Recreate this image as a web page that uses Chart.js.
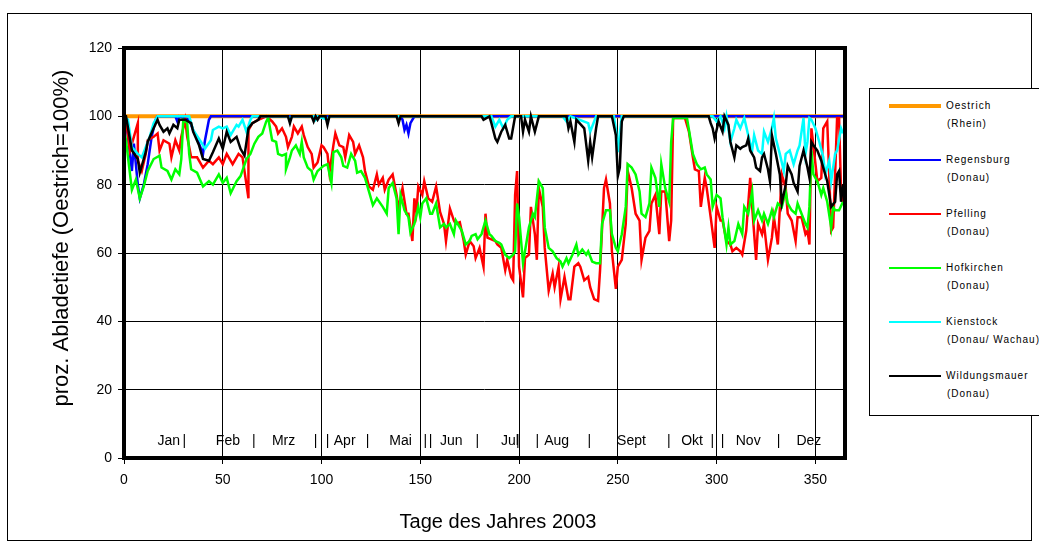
<!DOCTYPE html>
<html>
<head>
<meta charset="utf-8">
<script src="https://cdn.jsdelivr.net/npm/chart.js@4.4.1/dist/chart.umd.min.js"></script>
<style>
    body { margin: 0; background: #fff; font-family: Arial, "Liberation Sans", sans-serif; }
    #wrap { position: relative; width: 1039px; height: 552px; overflow: hidden; background: #fff; }
    #frame { position: absolute; left: 7px; top: 13px; width: 1025px; height: 528px; border: 1px solid #000; box-sizing: border-box; }
    #chart { position: absolute; left: 0; top: 0; }
    #legend { position: absolute; left: 869px; top: 88px; width: 190px; height: 328px; border: 1px solid #000; box-sizing: border-box; background: #fff; }
    .swatch { position: absolute; left: 19px; width: 52px; }
    .name { position: absolute; left: 76px; font-size: 10px; letter-spacing: 1px; white-space: nowrap; line-height: 12px; color: #000; }
</style>
</head>
<body>
<div id="wrap">
    <div id="frame"></div>
    <canvas id="chart" width="1039" height="552"></canvas>
    <div id="legend"></div>
</div>
<script>
// Abladetiefe 2003, Tageswerte in % von Oestrich

const seriesNames = ['Oestrich', 'Regensburg', 'Pfelling', 'Hofkirchen', 'Kienstock', 'Wildungsmauer'];
const seriesRivers = ['(Rhein)', '(Donau)', '(Donau)', '(Donau)', '(Donau/ Wachau)', '(Donau)'];

const oestrichDays = [0, 365];
const oestrichVals = [100, 100];

const regensburgDays = [0,1,4,5,7,8,10,12,14,16,17,26,27,28,33,35,38,40,41,43,44,140,141,142,143,144,145,147,365];
const regensburgVals = [100,99,84,92,80,76,80,86,94,99,100,100,98.5,100,99,96,92,89,93,99,100,100,99,96,97.5,95,98,100,100];

const pfellingDays = [0,1,3,5,7,7,9,11,12,15,17,18,20,23,24,26,28,29,31,32,34,37,40,43,45,48,50,52,55,58,60,63,63,65,68,72,
    75,77,78,80,82,83,85,86,88,90,91,93,95,96,98,100,101,103,104,106,107,109,111,112,114,116,117,119,121,122,124,126,128,129,131,132,134,136,138,139,141,143,144,146,147,
    148,149,151,152,154,156,158,160,162,163,165,167,168,170,172,173,175,177,178,180,182,183,184,186,188,189,191,193,194,196,197,198,199,200,202,203,205,206,208,209,210,212,213,215,217,218,220,
    221,223,225,226,228,230,231,233,235,236,238,240,241,243,244,246,247,249,250,252,254,255,257,259,261,262,264,266,267,269,271,272,274,276,277,278,284,286,288,289,291,292,294,295,
    297,299,300,302,303,305,307,308,310,312,313,315,317,318,320,321,323,324,326,328,329,331,333,335,336,338,340,341,343,345,346,347,348,349,351,353,354,356,357,358,359,360,361,362,363,364];
const pfellingVals = [100,99,90,94,98,87,84,89,93,94,95,90,93,92,88,93,90,94,99,94,88,88,85,87,86,88,86,89,86,89,88,76,96,98,99,100,
    98.5,97,95,96.5,94,91,94,97,95,97,94.5,91,89,85,86.5,91.5,91,89,83.5,91.5,95,91.5,91,88,94.5,92.5,89,91.5,88,84,79.5,78.5,83,80,82,78.5,81.5,83,77,73,79,71.5,71.5,63.5,76,
    72,79.5,77,81,76,75,79.5,72,68.5,63.5,73,69.5,68.5,69,63.5,59.5,63.5,62,58.5,61.5,56,71.5,64.5,64,63.5,62.5,61.5,55,58,53,52,77,84,56,47,58.5,59.5,73.5,65.5,58,79,73.5,61.5,49,54,50,56,
    46.5,53,46.5,46.5,56,57,56,52,53,50,46.5,46,55,79,81.5,74.5,60.5,49.5,56,58,68.5,84,79,71.5,69.5,58,64.5,66.5,74.5,77,65.5,78,78,63.5,69.5,99.5,99.5,95.5,88,84.5,84,73.5,82,79,
    70.5,61.5,73.5,69.5,69.5,63.5,62.5,60.5,61.5,60.5,59.5,66.5,82,73.5,58,68.5,65.5,68.5,58,64.5,70.5,62.5,83,79,71.5,69.5,63.5,70.5,70.5,65.5,66.5,62.5,96.5,91.5,81,82,96.5,98.5,83,66.5,67.5,83,99.5,99.5,78,75];

const hofkirchenDays = [0,1,4,6,8,10,12,15,18,19,22,24,26,28,29,30,32,33,34,37,40,43,45,48,50,52,54,57,59,62,64,66,68,70,72,
    73,75,77,78,80,82,82,84,85,87,89,90,91,93,95,96,98,100,101,103,105,106,108,110,111,113,115,117,118,120,122,123,126,128,131,133,134,136,138,139,140,142,144,145,147,
    149,150,151,153,155,156,158,160,162,163,165,167,168,171,173,175,176,178,179,181,183,185,186,188,190,191,193,195,197,198,199,200,202,203,205,207,208,210,212,213,215,217,219,221,
    222,224,225,227,229,230,232,234,235,237,239,241,242,244,246,247,249,250,252,254,255,257,259,261,262,264,266,267,269,271,272,274,276,277,278,285,287,288,290,292,294,295,
    297,298,300,302,303,305,306,307,309,311,313,314,316,318,319,321,323,324,326,328,329,331,333,335,336,338,340,341,343,345,346,347,348,349,351,353,354,356,358,359,360,362,364];
const hofkirchenVals = [96,93,78.5,81.5,76,79.5,84,87.5,88.5,85,84,81.5,84.5,83,87.5,99,98,89,84.5,83.5,79.5,81,80,83,80.5,82,77.5,81,82.5,87.5,89,92,94,95,98.5,
    99.5,93,92.5,89,88.5,89,84.5,88,90,91.5,89,92.5,88,85,84,81.5,84,85,85.5,86,80.5,89.5,90,88,85.5,85,89,87,83.5,84,82,80,74,76,73.5,71.5,79,80.5,76,65.5,77,72.5,70.5,66,68.5,
    73.5,70.5,74.5,76,71.5,71.5,74.5,67.5,68.5,67.5,68.5,65.5,69.5,66.5,62.5,63.5,65,65.5,64,65.5,69.5,65.5,65,63.5,63,62.5,59.5,58.5,59.5,60.5,74.5,70.5,57,60.5,67.5,71.5,70.5,81,79,67.5,61.5,60.5,58.5,57.5,
    56,58.5,57,59.5,62.5,59.5,61,59.5,60.5,57.5,57,57,68.5,72.5,72.5,65.5,61.5,60.5,65.5,73.5,86,85,83,78,71.5,70.5,74.5,85,82,73.5,86,79,75,92.5,99.5,99.5,92.5,89,86,84.5,85,83,
    81.5,73.5,77,76,70.5,62.5,67.5,62.5,63.5,68.5,65.5,73.5,71.5,78,69.5,72.5,69.5,71.5,68.5,72.5,70.5,74.5,73.5,78,74.5,72.5,71.5,74.5,71.5,68.5,67.5,73.5,90,83,81,77,79,75,67.5,73.5,72.5,72.5,75];

const kienstockDays = [0,2,4,7,9,11,13,15,17,33,35,39,41,44,45,48,50,52,54,57,58,60,62,64,65,83,84,85,96,97,98,103,104,
    186,188,190,192,194,196,222,224,226,235,236,238,239,248,249,250,251,252,
    298,300,302,304,305,307,309,310,312,314,316,318,319,321,323,324,326,328,329,330,332,334,335,337,339,341,342,344,345,346,347,348,350,352,354,355,357,358,360,361,363,364];
const kienstockVals = [100,99,91,89,88,91,94,98,100,100,96,92.5,90.5,93,96,97,96.5,97,94.5,97.5,97,99,95.5,99,100,100,99,100,100,99,100,99,100,
    100,97,99,96.5,99,100,100,98.5,100,98,95.5,98.5,100,100,96,89.5,95,100,
    100,98.5,100,96.5,100,92.5,96.5,99,96.5,99.5,94.5,90,94.5,90,89,95.5,92.5,96.5,99.5,93.5,89,84,89,90,86,90,91.5,99.5,89,92.5,99.5,99,96.5,92.5,88,83,87,81,89,90,96.5,95];

const wildungsmauerDays = [0,1,4,7,8,9,11,12,15,17,18,20,22,23,25,27,28,31,34,35,38,40,43,45,48,50,52,54,57,59,61,63,65,68,69,
    83,84,85,95,96,97,98,99,102,103,104,138,139,140,181,182,185,186,188,189,191,193,195,196,198,201,202,203,205,206,208,210,
    224,225,226,228,229,233,235,236,237,239,240,247,249,250,251,252,253,
    296,297,298,299,301,303,304,306,307,309,310,312,313,315,316,317,319,320,322,323,324,326,327,328,330,332,333,335,336,338,339,341,342,344,346,347,348,349,351,353,354,356,358,360,361,362,363,364];
const wildungsmauerVals = [100,100,90,87.5,83.5,85.5,89.5,92.5,96.5,99,97.5,95.5,96.5,95,97.5,96.5,99,99,98,95.5,91.5,87.5,87,89.5,93.5,90.5,95.5,92.5,94,90.5,88.5,96.5,98,99,100,
    100,98,100,100,98.5,100,99,100,100,97.5,100,100,98,100,100,99,100,98,93.5,92.5,95.5,97.5,93.5,93.5,100,100,95.5,99,95.5,100,95.5,100,
    100,96.5,98.5,92.5,99,96.5,87,92.5,88,96.5,100,100,94.5,82.5,85,98.5,100,
    100,98,96.5,93.5,98.5,95.5,100,97.5,92.5,88,91.5,90.5,91,91.5,93.5,90,88,85,84,88,89,84.5,81,94.5,89,83,74.5,80,85.5,83,80.5,78,85.5,90,85,82,92.5,91.5,90,87,85,81,73.5,75,83,84,75,80];

const xTicksStep = 50;
const yTicksStep = 20;
const monthLabels = ['Jan','|','Feb','|','Mrz','|','|','Apr','|','Mai','|','|','Jun','|','Jul','|','|','Aug','|','Sept','|','Okt','|','|','Nov','|','Dez'];
const monthLabelDays = [22.7,30.5,52.6,65.7,80.8,97,103,111.7,123.3,140,152.6,155.2,165.7,178.9,195.4,199.4,209.2,219,235.6,256.9,275.8,287.6,297.8,303,316,331.4,346.7];

const xTitle = 'Tage des Jahres 2003';
const yTitle = 'proz. Abladetiefe (Oestrich=100%)';

const seriesColors = ['#FF9900', '#0000FF', '#FF0000', '#00FF00', '#00FFFF', '#000000'];
const seriesWidths = [4, 2.5, 2.5, 2.5, 2.5, 2.5];

const FONT = 'Arial, "Liberation Sans", sans-serif';

const allDays = [oestrichDays, regensburgDays, pfellingDays, hofkirchenDays, kienstockDays, wildungsmauerDays];
const allVals = [oestrichVals, regensburgVals, pfellingVals, hofkirchenVals, kienstockVals, wildungsmauerVals];

// letzte Reihe liegt oben, wie im Original
const datasets = seriesNames.map((name, i) => ({
    label: name,
    data: allDays[i].map((d, k) => ({ x: d, y: allVals[i][k] })),
    borderColor: seriesColors[i],
    backgroundColor: seriesColors[i],
    borderWidth: seriesWidths[i],
    pointRadius: 0,
    tension: 0,
    fill: false,
    order: seriesNames.length - i
}));

const framePlugin = {
    id: 'framePlugin',
    afterDatasetsDraw(chart) {
        const { ctx, chartArea: a, scales: { x } } = chart;
        ctx.save();
        ctx.fillStyle = '#000';
        ctx.textAlign = 'center';
        ctx.textBaseline = 'middle';
        ctx.font = '14px ' + FONT;
        monthLabels.forEach((t, i) => {
            ctx.fillText(t, x.getPixelForValue(monthLabelDays[i]), a.bottom - 17);
        });

        ctx.strokeStyle = '#000';
        ctx.lineWidth = 4;
        ctx.strokeRect(a.left, a.top, a.right - a.left, a.bottom - a.top);

        ctx.font = '20px ' + FONT;
        ctx.fillText(xTitle, 498, 522);
        ctx.font = '22px ' + FONT;
        ctx.translate(62, 238);
        ctx.rotate(-Math.PI / 2);
        ctx.fillText(yTitle, 0, 0);
        ctx.restore();
    }
};

new Chart(document.getElementById('chart'), {
    type: 'line',
    data: { datasets: datasets },
    plugins: [framePlugin],
    options: {
        responsive: false,
        animation: false,
        events: [],
        layout: { padding: { left: 64, top: 48, right: 194, bottom: 54 } },
        plugins: { legend: { display: false }, tooltip: { enabled: false } },
        scales: {
            x: {
                type: 'linear', min: 0, max: 365,
                afterFit: s => { s.height = 40; },
                ticks: { stepSize: xTicksStep, includeBounds: false, color: '#000', font: { size: 14, family: FONT }, padding: 8, maxRotation: 0 },
                grid: { color: '#000', lineWidth: 1, tickLength: 6, tickColor: '#000' },
                border: { display: false }
            },
            y: {
                min: 0, max: 120,
                afterFit: s => { s.width = 60; },
                ticks: { stepSize: yTicksStep, color: '#000', font: { size: 14, family: FONT }, padding: 6 },
                grid: { color: '#000', lineWidth: 1, tickLength: 6, tickColor: '#000' },
                border: { display: false }
            }
        }
    }
});

// Legende mit zwei Zeilen je Eintrag
const legend = document.getElementById('legend');
seriesNames.forEach((name, i) => {
    const cy = 17 + i * 54;
    const sw = document.createElement('div');
    sw.className = 'swatch';
    sw.style.top = (cy - seriesWidths[i] / 2) + 'px';
    sw.style.height = seriesWidths[i] + 'px';
    sw.style.background = seriesColors[i];
    legend.appendChild(sw);

    const n = document.createElement('div');
    n.className = 'name';
    n.style.top = (cy - 6) + 'px';
    n.textContent = name;
    legend.appendChild(n);

    const r = document.createElement('div');
    r.className = 'name';
    r.style.top = (cy + 12) + 'px';
    r.style.left = '77px';
    r.textContent = seriesRivers[i];
    legend.appendChild(r);
});
</script>
</body>
</html>
